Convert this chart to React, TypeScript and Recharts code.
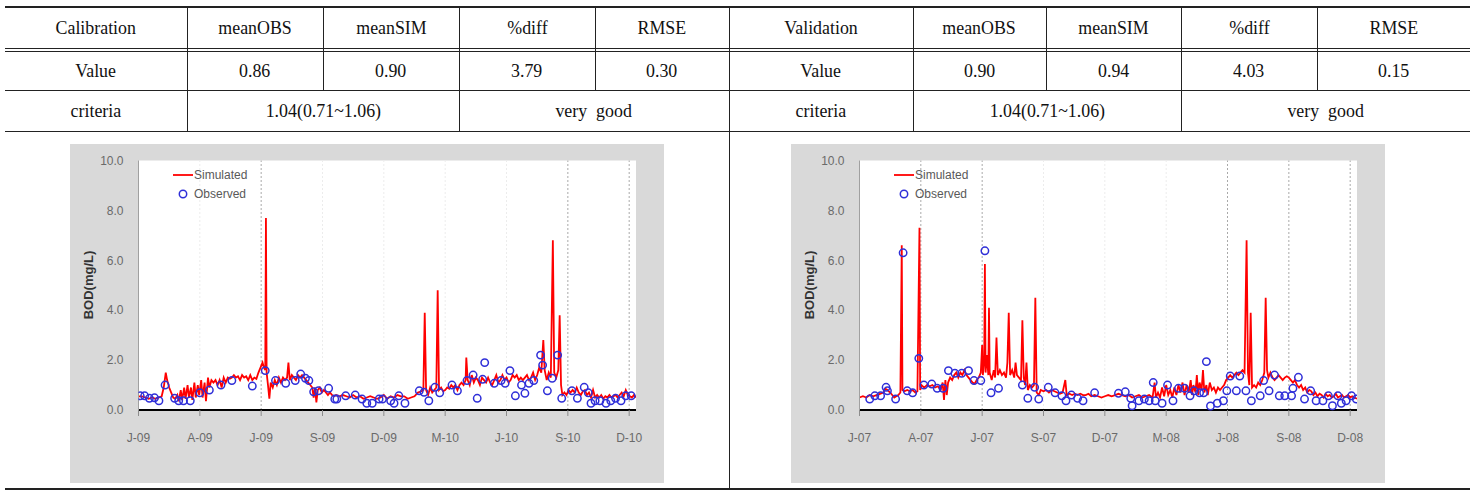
import {
  ComposedChart,
  Line,
  Scatter,
  XAxis,
  YAxis,
  CartesianGrid,
  ReferenceLine,
} from "recharts";

// ─── Table text ────────────────────────────────────────────────────

const calHeader = ["Calibration", "meanOBS", "meanSIM", "%diff", "RMSE"];
const valHeader = ["Validation", "meanOBS", "meanSIM", "%diff", "RMSE"];
const calValues = ["Value", "0.86", "0.90", "3.79", "0.30"];
const valValues = ["Value", "0.90", "0.94", "4.03", "0.15"];
const criteriaRow = ["criteria", "1.04(0.71~1.06)", "very  good"];

// ─── Chart data (days from start of period, BOD mg/L) ──────────────

const tickDays = [0, 90, 180, 270, 360, 450, 540, 630, 720];
const calTickLabels = ["J-09", "A-09", "J-09", "S-09", "D-09", "M-10", "J-10", "S-10", "D-10"];
const valTickLabels = ["J-07", "A-07", "J-07", "S-07", "D-07", "M-08", "J-08", "S-08", "D-08"];
const yTicks = [0, 2, 4, 6, 8, 10];

const calSimulated: [number, number][] = [
  [0, 0.55], [5, 0.55], [10, 0.5], [15, 0.45], [20, 0.5], [25, 0.45], [30, 0.5], [34, 0.55],
  [37, 0.9], [40, 1.5], [42, 1.2], [45, 0.9], [48, 0.7], [51, 0.5], [54, 0.45], [57, 0.6],
  [59, 0.35], [62, 0.8], [64, 0.4], [67, 0.9], [69, 0.45], [72, 1.0], [74, 0.5], [77, 0.9],
  [79, 0.4], [82, 1.1], [84, 0.5], [87, 1.0], [89, 0.6], [92, 1.2], [94, 0.5], [97, 1.1],
  [99, 0.35], [102, 1.3], [104, 0.9], [107, 1.2], [110, 1.1], [113, 1.2], [116, 1.0], [119, 1.2],
  [122, 0.9], [125, 1.3], [128, 1.1], [131, 1.3], [134, 1.25], [137, 1.3], [140, 1.4], [143, 1.3],
  [146, 1.35], [149, 1.2], [152, 1.4], [155, 1.3], [158, 1.35], [161, 1.2], [164, 1.4], [167, 1.2],
  [170, 1.3], [173, 1.25], [176, 1.5], [179, 1.7], [182, 1.9], [184, 1.7], [186, 1.6], [187, 7.7],
  [188, 1.5], [190, 1.0], [192, 0.45], [194, 1.1], [197, 0.9], [200, 1.2], [203, 1.0], [206, 1.3],
  [209, 1.1], [212, 1.3], [215, 1.2], [218, 1.3], [220, 1.9], [222, 1.2], [225, 1.4], [228, 1.3],
  [231, 1.2], [234, 1.4], [237, 1.3], [240, 1.4], [243, 1.3], [246, 1.2], [249, 1.1], [252, 1.0],
  [255, 0.9], [257, 0.5], [259, 0.9], [261, 0.3], [263, 0.8], [266, 0.9], [269, 0.7], [272, 0.8],
  [275, 0.7], [278, 0.6], [281, 0.7], [284, 0.6], [287, 0.55], [290, 0.6], [295, 0.55], [300, 0.6],
  [305, 0.55], [310, 0.5], [315, 0.6], [320, 0.5], [325, 0.55], [330, 0.45], [335, 0.5], [340, 0.55],
  [345, 0.5], [350, 0.45], [355, 0.5], [360, 0.6], [365, 0.45], [370, 0.55], [375, 0.5], [380, 0.6],
  [385, 0.55], [390, 0.55], [395, 0.45], [400, 0.5], [405, 0.55], [410, 0.7], [415, 0.75], [418, 0.8],
  [420, 3.9], [422, 0.8], [425, 0.6], [428, 0.9], [431, 0.7], [434, 0.8], [437, 0.9], [439, 4.8],
  [441, 0.8], [444, 0.9], [447, 0.75], [450, 0.8], [453, 0.9], [456, 0.85], [459, 1.0], [462, 0.9],
  [465, 1.0], [468, 0.8], [471, 1.0], [474, 1.1], [477, 1.0], [480, 1.2], [481, 2.1], [483, 1.2],
  [486, 1.0], [489, 1.4], [492, 1.1], [495, 1.3], [498, 1.2], [501, 1.0], [504, 1.3], [507, 1.2],
  [510, 1.1], [513, 1.3], [516, 1.1], [519, 1.0], [522, 1.2], [525, 1.4], [528, 1.1], [531, 1.2],
  [534, 1.4], [537, 1.2], [540, 1.3], [543, 1.1], [546, 1.2], [549, 1.4], [552, 1.3], [555, 1.4],
  [558, 1.2], [561, 1.3], [564, 1.2], [567, 1.3], [570, 1.4], [573, 1.2], [576, 1.3], [579, 1.5],
  [582, 1.2], [585, 1.4], [588, 1.7], [591, 1.5], [594, 2.8], [596, 1.6], [599, 1.2], [602, 1.5],
  [605, 1.3], [608, 6.8], [610, 1.5], [613, 1.3], [616, 1.6], [618, 3.8], [620, 1.0], [622, 0.6],
  [625, 0.7], [628, 0.6], [631, 0.8], [634, 0.7], [637, 0.8], [640, 0.7], [643, 0.9], [646, 0.7],
  [649, 0.6], [652, 0.75], [655, 0.8], [658, 0.6], [661, 0.7], [664, 0.5], [667, 0.8], [670, 0.5],
  [673, 0.6], [676, 0.5], [679, 0.6], [682, 0.45], [685, 0.55], [688, 0.5], [691, 0.6], [694, 0.5],
  [697, 0.55], [700, 0.6], [703, 0.5], [706, 0.6], [709, 0.7], [712, 0.55], [715, 0.8], [718, 0.6],
  [721, 0.55], [724, 0.5], [727, 0.6], [730, 0.5],
];

const calObserved: [number, number][] = [
  [2.5, 0.57], [9, 0.57], [16, 0.47], [23.5, 0.49], [30, 0.37], [39, 1.0], [53, 0.47], [59, 0.37],
  [66, 0.37], [76, 0.37], [90, 0.69], [104, 0.8], [121, 1.0], [137, 1.18], [167, 0.96], [186, 1.58],
  [201, 1.18], [216, 1.07], [230, 1.18], [238, 1.44], [245, 1.27], [250, 1.18], [257, 0.73], [264, 0.77],
  [279, 0.87], [288, 0.44], [291, 0.44], [304, 0.57], [318, 0.6], [328, 0.44], [335, 0.27], [343, 0.27],
  [353, 0.44], [358, 0.44], [370, 0.37], [375, 0.27], [382, 0.57], [391, 0.27], [412, 0.77], [419, 0.71],
  [426, 0.37], [435, 0.91], [442, 0.69], [460, 1.0], [468, 0.77], [482, 1.18], [491, 1.4], [497, 0.47],
  [505, 1.23], [508, 1.9], [522, 1.07], [532, 1.18], [538, 1.07], [545, 1.58], [553, 0.57], [562, 1.0],
  [567, 0.67], [573, 1.07], [580, 1.18], [590, 2.2], [593, 1.8], [600, 0.77], [607, 1.27], [615, 2.2],
  [621, 0.47], [636, 0.77], [644, 0.47], [654, 0.91], [660, 0.69], [664, 0.27], [670, 0.37], [677, 0.37],
  [686, 0.27], [693, 0.37], [700, 0.47], [708, 0.37], [715, 0.57], [723, 0.57],
];

const valSimulated: [number, number][] = [
  [0, 0.5], [5, 0.55], [10, 0.5], [15, 0.6], [20, 0.55], [25, 0.6], [30, 0.65], [35, 0.7],
  [38, 0.85], [41, 0.8], [45, 0.7], [48, 0.6], [51, 0.5], [54, 0.55], [57, 0.6], [60, 0.7],
  [62, 6.6], [63, 0.8], [66, 0.75], [70, 0.8], [74, 0.75], [78, 0.8], [82, 0.7], [85, 0.75],
  [88, 7.3], [89, 0.8], [91, 1.0], [95, 0.9], [99, 1.0], [103, 0.95], [107, 1.0], [111, 0.9],
  [115, 0.95], [119, 0.8], [122, 1.1], [124, 0.4], [126, 1.2], [128, 0.6], [130, 1.1], [133, 1.3],
  [136, 1.2], [139, 1.4], [142, 1.5], [145, 1.3], [148, 1.5], [151, 1.4], [154, 1.6], [157, 1.4],
  [160, 1.3], [163, 1.2], [166, 1.1], [169, 1.05], [172, 1.2], [175, 1.3], [178, 1.5], [180, 2.6],
  [181, 1.4], [183, 2.0], [184, 5.85], [185, 1.5], [187, 2.2], [189, 1.4], [190, 4.1], [191, 1.5],
  [194, 1.2], [197, 1.6], [199, 1.3], [201, 2.9], [203, 1.4], [206, 1.6], [209, 1.4], [212, 1.5],
  [215, 1.3], [217, 1.9], [219, 3.9], [221, 1.4], [224, 1.6], [227, 1.3], [229, 1.9], [231, 1.4],
  [234, 1.3], [237, 1.2], [239, 3.6], [241, 1.3], [243, 1.0], [245, 1.9], [247, 0.8], [250, 1.0],
  [253, 0.9], [256, 1.0], [258, 4.5], [260, 0.7], [263, 0.6], [266, 0.8], [270, 0.75], [274, 0.8],
  [278, 0.7], [282, 0.8], [286, 0.75], [290, 0.7], [294, 0.65], [298, 0.7], [302, 1.2], [304, 0.6],
  [308, 0.65], [312, 0.6], [316, 0.65], [320, 0.6], [324, 0.65], [328, 0.6], [332, 0.6], [336, 0.65],
  [340, 0.55], [345, 0.6], [350, 0.55], [355, 0.5], [360, 0.55], [365, 0.6], [370, 0.55], [375, 0.6],
  [380, 0.65], [385, 0.6], [390, 0.55], [395, 0.6], [400, 0.5], [405, 0.55], [410, 0.6], [415, 0.5],
  [420, 0.55], [425, 0.6], [430, 0.5], [433, 1.1], [435, 0.5], [438, 0.7], [441, 0.5], [444, 0.9],
  [447, 0.55], [450, 1.0], [453, 0.6], [456, 0.8], [459, 0.5], [462, 0.9], [465, 0.6], [468, 1.0],
  [471, 0.7], [474, 1.1], [477, 0.6], [480, 1.0], [483, 0.7], [486, 1.2], [488, 0.6], [490, 1.0],
  [493, 0.7], [495, 1.4], [497, 0.6], [499, 1.1], [502, 0.8], [504, 1.6], [506, 0.7], [509, 1.0],
  [511, 0.6], [514, 1.1], [517, 0.8], [520, 0.9], [523, 0.7], [526, 0.9], [529, 0.8], [532, 0.9],
  [535, 1.0], [538, 1.2], [541, 1.3], [544, 1.4], [547, 1.3], [550, 1.4], [553, 1.5], [556, 1.4],
  [559, 1.5], [562, 1.6], [565, 1.5], [568, 6.8], [570, 1.5], [572, 1.0], [574, 3.9], [576, 0.9],
  [579, 1.0], [582, 0.9], [585, 1.1], [588, 1.0], [591, 1.2], [594, 1.5], [596, 4.5], [598, 1.6],
  [600, 1.3], [603, 1.5], [606, 1.3], [609, 1.2], [612, 1.3], [615, 1.4], [618, 1.3], [621, 1.2],
  [624, 1.3], [627, 1.35], [630, 1.3], [633, 1.2], [636, 1.1], [639, 1.2], [642, 1.0], [645, 0.9],
  [648, 1.0], [651, 0.8], [654, 0.9], [657, 0.7], [660, 0.8], [663, 0.75], [666, 0.6], [669, 0.7],
  [672, 0.55], [675, 0.65], [678, 0.6], [681, 0.5], [684, 0.65], [687, 0.55], [690, 0.6], [693, 0.5],
  [696, 0.55], [699, 0.65], [702, 0.5], [705, 0.55], [708, 0.6], [711, 0.5], [714, 0.55], [717, 0.6],
  [720, 0.5], [723, 0.55], [726, 0.5], [730, 0.45],
];

const valObserved: [number, number][] = [
  [15, 0.44], [22.5, 0.57], [31, 0.57], [39, 0.91], [41, 0.77], [53, 0.44], [64, 6.3], [70, 0.77],
  [78, 0.69], [87, 2.07], [94.5, 1.0], [106, 1.04], [114, 0.87], [122.5, 0.87], [130.5, 1.58], [140, 1.47],
  [150, 1.47], [160, 1.58], [168, 1.18], [178, 1.18], [184, 6.38], [193, 0.69], [204, 0.87], [239, 1.0],
  [247, 0.47], [257, 0.91], [263, 0.44], [277, 0.91], [287, 0.69], [297, 0.57], [303, 0.37], [311, 0.6],
  [320, 0.47], [328, 0.37], [345, 0.69], [380, 0.67], [390, 0.73], [398, 0.47], [400, 0.17], [410, 0.37],
  [418, 0.44], [425, 0.37], [431, 1.1], [434, 0.37], [444, 0.27], [452, 1.0], [460, 0.37], [468, 0.87],
  [477, 0.87], [485, 0.57], [491, 0.77], [499, 0.69], [505, 0.69], [509, 1.94], [515, 0.16], [525, 0.27],
  [534, 0.37], [539, 0.77], [544, 1.36], [553, 0.77], [558, 1.36], [567, 0.77], [575, 0.37], [588, 0.57],
  [593, 1.18], [601, 0.77], [609, 1.4], [616, 0.57], [624, 0.57], [634, 0.57], [636, 0.87], [644, 1.31],
  [653, 0.44], [662, 0.77], [670, 0.37], [680, 0.37], [688, 0.57], [694, 0.17], [702, 0.57], [707, 0.27],
  [714, 0.37], [722, 0.57], [729, 0.44],
];

// gridlines drawn darker in the original
const calDarkGrid = [180, 630, 720];
const valDarkGrid = [90, 180, 540, 630, 720];

// ─── Layout ────────────────────────────────────────────────────────

const SERIF = "'Liberation Serif', 'Times New Roman', serif";
const SANS = "'Liberation Sans', Arial, sans-serif";

const colEdges = [5, 187, 323, 459, 595, 729, 913, 1046, 1181, 1317, 1470];

function toRows(pairs: [number, number][]) {
  return pairs.map(([day, v]) => ({ day, v }));
}

function ObsCircle(props: any) {
  const { cx, cy } = props;
  if (cx == null || cy == null) return null;
  return <circle cx={cx} cy={cy} r={3.7} fill="none" stroke="#2f2fd8" strokeWidth={1.5} />;
}

function CellText({ x0, x1, y0, y1, text }: { x0: number; x1: number; y0: number; y1: number; text: string }) {
  return (
    <div
      style={{
        position: "absolute",
        left: x0,
        width: x1 - x0,
        top: y0,
        height: y1 - y0,
        display: "flex",
        alignItems: "center",
        justifyContent: "center",
        fontFamily: SERIF,
        fontSize: 19,
        color: "#111",
        whiteSpace: "pre",
      }}
    >
      <span style={{ display: "inline-block", transform: "scaleX(0.94)" }}>{text}</span>
    </div>
  );
}

function Rule({ x, y, w, h }: { x: number; y: number; w: number; h: number }) {
  return <div style={{ position: "absolute", left: x, top: y, width: w, height: h, background: "#222" }} />;
}

function BodChart({
  left,
  sim,
  obs,
  tickLabels,
  darkGrid,
}: {
  left: number;
  sim: [number, number][];
  obs: [number, number][];
  tickLabels: string[];
  darkGrid: number[];
}) {
  return (
    <div style={{ position: "absolute", left, top: 144, width: 594, height: 339, background: "#d9d9d9" }}>
      <ComposedChart width={594} height={339} margin={{ top: 16.5, right: 28, left: 0, bottom: 43 }}>
        <CartesianGrid horizontal={false} vertical={false} fill="#ffffff" fillOpacity={1} />
        {tickDays
          .filter((d) => d > 0)
          .map((d) => (
            <ReferenceLine
              key={d}
              x={d}
              stroke={darkGrid.includes(d) ? "#a9a9a9" : "#ececec"}
              strokeDasharray="2 2"
              strokeWidth={1}
            />
          ))}
        <XAxis
          type="number"
          dataKey="day"
          domain={[0, 730]}
          ticks={tickDays}
          interval={0}
          allowDataOverflow
          tickFormatter={(v: number) => tickLabels[tickDays.indexOf(v)] ?? ""}
          axisLine={{ stroke: "#000", strokeWidth: 2 }}
          tickLine={{ stroke: "#8c8c8c" }}
          tickSize={6}
          tickMargin={17}
          height={30}
          tick={{ fill: "#6a6a6a", fontSize: 12, fontFamily: SANS }}
        />
        <YAxis
          type="number"
          domain={[0, 10]}
          ticks={yTicks}
          interval={0}
          width={68.5}
          axisLine={{ stroke: "#a0a0a0" }}
          tickLine={false}
          tickSize={6}
          tickMargin={9}
          tickFormatter={(v: number) => v.toFixed(1)}
          tick={{ fill: "#6a6a6a", fontSize: 12, fontFamily: SANS }}
          label={{
            content: () => (
              <text
                x={18}
                y={141}
                transform="rotate(-90 18 141)"
                textAnchor="middle"
                dominantBaseline="central"
                fontFamily={SANS}
                fontWeight="bold"
                fontSize={13}
                fill="#333"
              >
                BOD(mg/L)
              </text>
            ),
          }}
        />
        <Line
          data={toRows(sim)}
          dataKey="v"
          type="linear"
          stroke="#ff0000"
          strokeWidth={1.8}
          dot={false}
          activeDot={false}
          isAnimationActive={false}
        />
        <Scatter data={toRows(obs)} dataKey="v" shape={ObsCircle} isAnimationActive={false} />
      </ComposedChart>
      {/* legend */}
      <div style={{ position: "absolute", left: 103, top: 21, fontFamily: SANS, fontSize: 12, color: "#595959" }}>
        <div style={{ display: "flex", alignItems: "center", height: 19 }}>
          <svg width={21} height={10}>
            <line x1={0} y1={5} x2={20} y2={5} stroke="#ff0000" strokeWidth={1.8} />
          </svg>
          <span>Simulated</span>
        </div>
        <div style={{ display: "flex", alignItems: "center", height: 19 }}>
          <svg width={21} height={10}>
            <circle cx={10} cy={5} r={3.7} fill="none" stroke="#2f2fd8" strokeWidth={1.5} />
          </svg>
          <span>Observed</span>
        </div>
      </div>
    </div>
  );
}

export default function App() {
  const hdr = [...calHeader, ...valHeader];
  const vals = [...calValues, ...valValues];
  return (
    <div style={{ position: "absolute", left: 0, top: 0, width: 1475, height: 495, background: "#fff", overflow: "hidden" }}>
      {/* horizontal rules */}
      <Rule x={5} y={6} w={1465} h={2} />
      <Rule x={5} y={48} w={1465} h={1} />
      <Rule x={5} y={51} w={1465} h={1} />
      <Rule x={5} y={90} w={1465} h={1} />
      <Rule x={5} y={131} w={1465} h={1} />
      <Rule x={5} y={488} w={1465} h={2} />

      {/* vertical rules: header + value rows */}
      {colEdges.slice(1, -1).map((x) => (
        <Rule key={"a" + x} x={x} y={8} w={1} h={83} />
      ))}
      {/* criteria row */}
      {[187, 459, 729, 913, 1181].map((x) => (
        <Rule key={"b" + x} x={x} y={91} w={1} h={41} />
      ))}
      {/* chart row */}
      <Rule x={729} y={132} w={1} h={357} />

      {hdr.map((t, i) => (
        <CellText key={"h" + i} x0={colEdges[i]} x1={colEdges[i + 1]} y0={8} y1={48} text={t} />
      ))}
      {vals.map((t, i) => (
        <CellText key={"v" + i} x0={colEdges[i]} x1={colEdges[i + 1]} y0={52} y1={90} text={t} />
      ))}
      <CellText x0={5} x1={187} y0={91} y1={131} text={criteriaRow[0]} />
      <CellText x0={187} x1={459} y0={91} y1={131} text={criteriaRow[1]} />
      <CellText x0={459} x1={729} y0={91} y1={131} text={criteriaRow[2]} />
      <CellText x0={729} x1={913} y0={91} y1={131} text={criteriaRow[0]} />
      <CellText x0={913} x1={1181} y0={91} y1={131} text={criteriaRow[1]} />
      <CellText x0={1181} x1={1470} y0={91} y1={131} text={criteriaRow[2]} />

      <BodChart left={70} sim={calSimulated} obs={calObserved} tickLabels={calTickLabels} darkGrid={calDarkGrid} />
      <BodChart left={791} sim={valSimulated} obs={valObserved} tickLabels={valTickLabels} darkGrid={valDarkGrid} />
    </div>
  );
}
